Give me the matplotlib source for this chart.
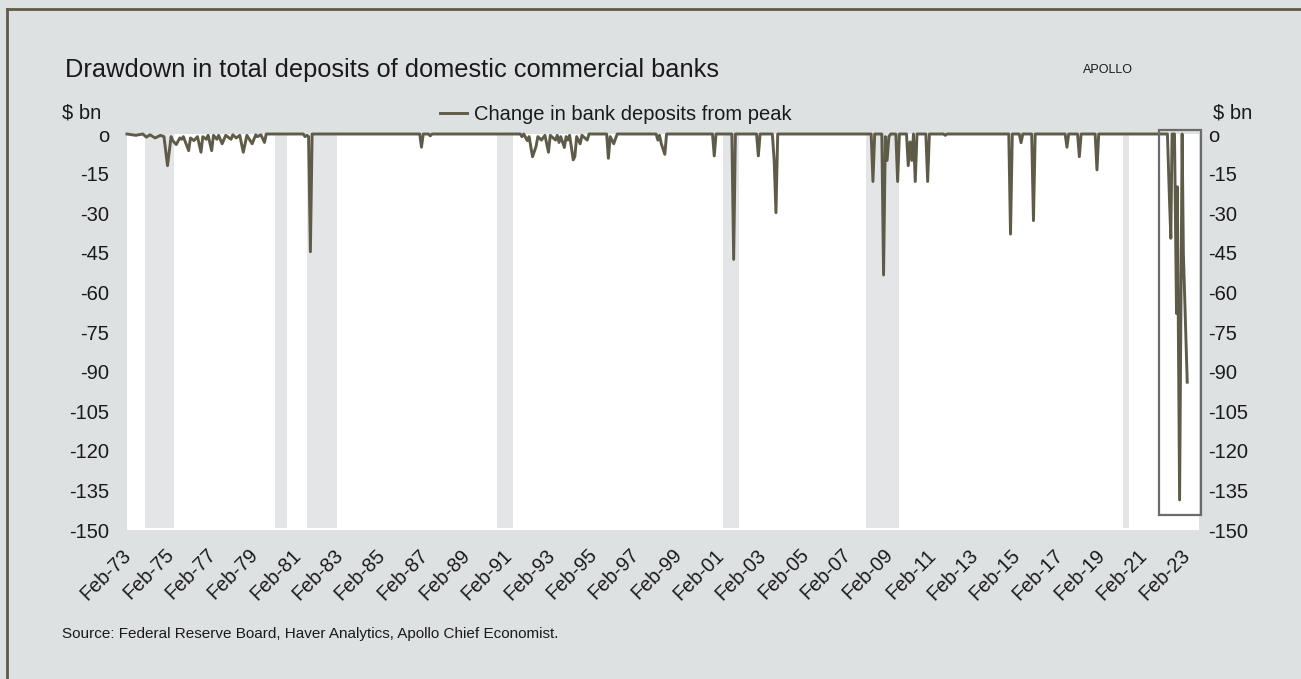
import matplotlib.pyplot as plt
import matplotlib.dates as mdates
import matplotlib.transforms as mtransforms
from matplotlib.lines import Line2D
from matplotlib.patches import Rectangle
import pandas as pd

plt.rcParams['font.family'] = ['Liberation Sans', 'DejaVu Sans']

# Drawdown from peak, $ bn
dates = [
    "1973-01", "1973-06", "1973-10", "1973-12", "1974-02", "1974-05", "1974-08",
    "1974-10", "1974-12", "1975-02", "1975-03", "1975-05", "1975-07", "1975-08",
    "1975-09", "1975-12", "1976-01", "1976-03", "1976-05", "1976-07", "1976-08",
    "1976-10", "1976-11", "1977-01", "1977-02", "1977-04", "1977-05", "1977-07",
    "1977-09", "1977-12", "1978-01", "1978-03", "1978-05", "1978-07", "1978-09",
    "1978-12", "1979-02", "1979-03", "1979-05", "1979-07", "1979-08",
    "1981-05", "1981-06", "1981-07", "1981-08", "1981-09", "1981-10",
    "1986-11", "1986-12", "1987-01", "1987-04", "1987-05", "1987-06",
    "1991-08", "1991-09", "1991-10", "1991-12", "1992-01", "1992-03", "1992-05",
    "1992-06", "1992-08", "1992-10", "1992-12", "1993-01", "1993-04", "1993-05",
    "1993-06", "1993-07", "1993-09", "1993-10", "1993-11", "1993-12", "1994-02",
    "1994-03", "1994-04", "1994-06", "1994-07", "1994-10", "1994-11",
    "1995-09", "1995-10", "1995-11", "1996-01", "1996-02", "1996-03",
    "1998-01", "1998-02", "1998-03", "1998-04", "1998-06", "1998-07",
    "2000-09", "2000-10", "2000-11", "2001-08", "2001-09", "2001-10",
    "2002-10", "2002-11", "2002-12", "2003-07", "2003-08", "2003-09", "2003-10",
    "2008-03", "2008-04", "2008-05", "2008-09", "2008-10", "2008-11", "2008-12",
    "2009-01", "2009-02", "2009-05", "2009-06", "2009-07", "2009-11", "2009-12",
    "2010-01", "2010-02", "2010-03", "2010-04", "2010-05", "2010-10", "2010-11",
    "2010-12", "2011-08", "2011-09", "2011-10",
    "2014-09", "2014-10", "2014-11", "2015-03", "2015-04", "2015-05", "2015-10",
    "2015-11", "2015-12", "2017-05", "2017-06", "2017-07", "2017-12", "2018-01",
    "2018-02", "2018-10", "2018-11", "2018-12",
    "2022-03-01", "2022-04-07", "2022-04-29", "2022-05-20", "2022-07-01",
    "2022-08-05", "2022-08-19", "2022-09-27", "2022-11-10", "2022-12-01",
    "2023-02-06",
]
values = [
    0, -0.5, 0, -1.2, -0.3, -1.5, -0.5,
    -1.0, -12.0, -1.0, -2.5, -4.0, -1.5, -2.0,
    -1.0, -6.3, -1.5, -2.5, -1.0, -6.9, -1.0,
    -2.0, -0.5, -6.3, -0.5, -2.0, -0.5, -3.7,
    -0.5, -2.0, -0.3, -1.5, -0.5, -6.9, -0.5,
    -3.7, -0.3, -1.0, -0.3, -3.2, 0,
    0, -1.0, -0.5, -1.0, -44.6, 0,
    0, -5.0, 0, 0, -0.7, 0,
    0, -1.0, 0, -2.5, -1.0, -8.6, -4.7,
    -1.0, -2.3, -0.5, -6.9, -0.5, -2.3, -0.5,
    -3.2, -1.0, -5.1, -1.0, -2.3, -0.5, -9.8,
    -8.6, -1.0, -3.7, -0.5, -2.3, 0,
    0, -9.2, -1.0, -3.7, -1.8, 0,
    0, -2.3, -0.5, -3.7, -7.7, 0,
    0, -8.3, 0, 0, -47.5, 0,
    0, -8.3, 0, 0, -10.0, -29.8, 0,
    0, -18.0, 0, 0, -53.4, -1.0, -10.0,
    -1.0, 0, 0, -18.0, 0, 0, -12.0,
    -3.0, -10.0, 0, -18.0, 0, 0, -18.0,
    0, 0, -0.5, 0,
    0, -37.9, 0, 0, -3.3, 0, 0,
    -32.8, 0, 0, -5.0, 0, 0, -8.6,
    0, 0, -13.6, 0,
    0, -26.0, -39.5, 0, 0,
    -68.0, -20.0, -138.6, 0, -45.0,
    -94.0,
]

recessions = [
    ("1973-11-01", "1975-03-31"), ("1980-01-01", "1980-07-31"),
    ("1981-07-01", "1982-11-30"), ("1990-07-01", "1991-03-31"),
    ("2001-03-01", "2001-11-30"), ("2007-12-01", "2009-06-30"),
    ("2020-02-01", "2020-04-30"),
]

tick_years = list(range(1973, 2024, 2))
tick_labels = [f"Feb-{y % 100:02d}" for y in tick_years]
y_ticks = list(range(-150, 1, 15))
y_labels = ["o" if v == 0 else str(v) for v in y_ticks]

bg = "#dee1e2"
band = "#e4e5e7"
olive = "#5e5b49"
txt = "#1a1a1a"
fs = 14.5

W, H = 1301, 679
fig = plt.figure(figsize=(W / 100, H / 100), dpi=100, facecolor=bg)
ax = fig.add_axes([127 / W, 1 - 530 / H, (1199 - 127) / W, (530 - 134) / H])
ax.set_facecolor("white")

x = pd.to_datetime(dates, format="ISO8601")
for s, e in recessions:
    ax.axvspan(pd.Timestamp(s), pd.Timestamp(e), ymin=0.005, ymax=1,
               color=band, lw=0, zorder=1)

line, = ax.plot(x, values, color=olive, lw=2.1, zorder=3, clip_on=False,
                label="Change in bank deposits from peak")

ax.set_xlim(pd.Timestamp("1973-01-01"), pd.Timestamp("2023-08-28"))
ax.set_ylim(-150, 0)

# highlight box around the recent drawdowns
b0 = mdates.date2num(pd.Timestamp("2021-10-08"))
b1 = mdates.date2num(pd.Timestamp("2023-10-05"))
ax.add_patch(Rectangle((b0, -144.3), b1 - b0, 145.8, fill=False,
                       ec="#6b6b6b", lw=1.6, zorder=4, clip_on=False))

ax.set_xticks([pd.Timestamp(f"{y}-02-01") for y in tick_years])
ax.set_xticklabels(tick_labels, rotation=45, ha="right", va="top",
                   rotation_mode="anchor", fontsize=14.3, color=txt)
ax.tick_params(axis="x", length=0, pad=11)
shift = mtransforms.ScaledTranslation(-7 / 100, 0, fig.dpi_scale_trans)
for lab in ax.get_xticklabels():
    lab.set_transform(lab.get_transform() + shift)

ax.set_yticks(y_ticks)
ax.set_yticklabels(y_labels, fontsize=fs, color=txt)
ax.tick_params(axis="y", length=0, pad=13)

# right-hand scale
ax2 = ax.twinx()
ax2.set_ylim(-150, 0)
ax2.set_yticks(y_ticks)
ax2.set_yticklabels(y_labels, fontsize=fs, color=txt)
ax2.tick_params(axis="y", length=0, pad=6.5)

for a in (ax, ax2):
    for sp in a.spines.values():
        sp.set_visible(False)

fig.text(65 / W, 1 - 70 / H, "Drawdown in total deposits of domestic commercial banks",
         fontsize=18.3, color=txt, va="center", ha="left")
fig.text(1133 / W, 1 - 70 / H, "APOLLO", fontsize=9, color=txt,
         va="center", ha="right")
fig.text(62 / W, 1 - 113 / H, "$ bn", fontsize=fs, color=txt, va="center")
fig.text(1252 / W, 1 - 113 / H, "$ bn", fontsize=fs, color=txt,
         va="center", ha="right")
fig.text(62 / W, 1 - 634 / H,
         "Source: Federal Reserve Board, Haver Analytics, Apollo Chief Economist.",
         fontsize=11, color=txt, va="center")

fig.legend(handles=[line], loc="center", bbox_to_anchor=(616 / W, 1 - 115 / H),
           frameon=False, fontsize=fs, handlelength=1.35,
           handletextpad=0.35, borderpad=0, borderaxespad=0,
           labelcolor=txt)

# outer frame (top and left edges)
fig.add_artist(Line2D([7 / W, 1], [1 - 9 / H, 1 - 9 / H], color=olive,
                      lw=2, transform=fig.transFigure))
fig.add_artist(Line2D([7 / W, 7 / W], [0, 1 - 9 / H], color=olive,
                      lw=2, transform=fig.transFigure))

fig.savefig("out.png", dpi=100, facecolor=bg)
